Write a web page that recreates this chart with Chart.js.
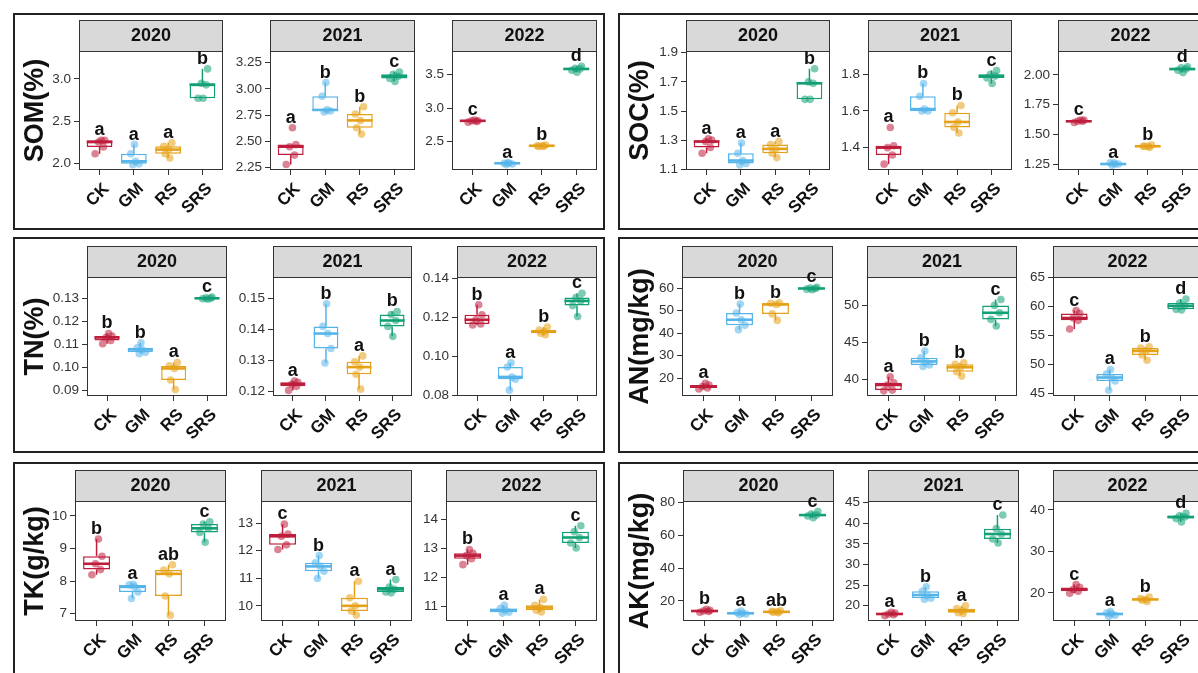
<!DOCTYPE html>
<html>
<head>
<meta charset="utf-8">
<script src="https://cdn.jsdelivr.net/npm/chart.js@4/dist/chart.umd.min.js"></script>
<style>
  html, body { margin: 0; padding: 0; background: #fff; }
  body { width: 1198px; height: 673px; overflow: hidden; position: relative; }
  .frame { position: absolute; border: 2px solid #222; box-sizing: border-box; }
  canvas { position: absolute; }
</style>
</head>
<body>
<script>
// treatments and years
const categories = ['CK', 'GM', 'RS', 'SRS'];
const years = ['2020', '2021', '2022'];
const colors = ['#BE1E3C', '#56B4E9', '#E5A118', '#13A077'];

// observations per treatment (CK, GM, RS, SRS), one block per year
const somValues = [
  [[2.11, 2.19, 2.25, 2.27, 2.27], [1.98, 1.99, 2.02, 2.11, 2.22], [2.06, 2.11, 2.16, 2.20, 2.24], [2.77, 2.77, 2.93, 2.95, 3.12]],
  [[2.28, 2.37, 2.45, 2.47, 2.63], [2.78, 2.79, 2.80, 2.93, 3.06], [2.57, 2.63, 2.70, 2.76, 2.83], [3.07, 3.10, 3.12, 3.14, 3.16]],
  [[2.79, 2.80, 2.81, 2.81, 2.82], [2.16, 2.17, 2.18, 2.18, 2.19], [2.43, 2.43, 2.44, 2.44, 2.45], [3.53, 3.56, 3.58, 3.59, 3.62]]
];
const socValues = [
  [[1.21, 1.25, 1.29, 1.30, 1.31], [1.13, 1.14, 1.16, 1.21, 1.28], [1.18, 1.21, 1.24, 1.27, 1.29], [1.58, 1.58, 1.69, 1.70, 1.79]],
  [[1.31, 1.36, 1.40, 1.41, 1.51], [1.60, 1.60, 1.61, 1.68, 1.75], [1.48, 1.51, 1.54, 1.59, 1.63], [1.75, 1.78, 1.79, 1.80, 1.82]],
  [[1.60, 1.61, 1.61, 1.62, 1.62], [1.24, 1.25, 1.25, 1.26, 1.26], [1.39, 1.40, 1.40, 1.40, 1.41], [2.02, 2.04, 2.05, 2.06, 2.07]]
];
const tnValues = [
  [[0.1103, 0.1117, 0.1130, 0.1136, 0.1147], [0.1060, 0.1066, 0.1078, 0.1085, 0.1107], [0.0905, 0.0946, 0.0996, 0.1007, 0.1022], [0.1295, 0.1297, 0.1299, 0.1301, 0.1304]],
  [[0.1203, 0.1216, 0.1223, 0.1229, 0.1233], [0.1291, 0.1338, 0.1386, 0.1409, 0.1482], [0.1207, 0.1255, 0.1278, 0.1295, 0.1314], [0.1377, 0.1409, 0.1428, 0.1447, 0.1457]],
  [[0.1160, 0.1165, 0.1187, 0.1213, 0.1264], [0.0825, 0.0881, 0.0893, 0.0944, 0.0966], [0.1110, 0.1118, 0.1126, 0.1134, 0.1150], [0.1204, 0.1260, 0.1284, 0.1301, 0.1323]]
];
const anValues = [
  [[15.2, 15.7, 16.3, 17.0, 17.8], [41.6, 43.5, 46.0, 49.0, 53.0], [45.7, 48.6, 52.8, 53.3, 53.5], [59.3, 59.6, 59.9, 60.1, 60.4]],
  [[38.4, 38.5, 39.2, 39.5, 40.3], [41.7, 41.9, 42.4, 42.9, 43.8], [40.4, 41.0, 41.6, 42.0, 42.2], [47.2, 48.1, 49.0, 50.0, 50.8]],
  [[56.1, 57.6, 58.0, 58.8, 59.3], [45.5, 47.1, 47.7, 48.3, 49.1], [50.7, 51.6, 52.3, 52.8, 53.0], [59.4, 59.5, 60.1, 60.6, 61.3]]
];
const tkValues = [
  [[8.19, 8.35, 8.53, 8.76, 9.29], [7.46, 7.66, 7.82, 7.88, 7.90], [6.95, 7.54, 8.22, 8.34, 8.50], [9.19, 9.49, 9.62, 9.75, 9.82]],
  [[12.04, 12.21, 12.52, 12.60, 12.96], [10.99, 11.25, 11.43, 11.56, 11.82], [9.67, 9.81, 10.00, 10.29, 10.89], [10.47, 10.50, 10.60, 10.68, 10.95]],
  [[12.44, 12.64, 12.75, 12.83, 12.96], [10.78, 10.81, 10.88, 10.94, 11.05], [10.82, 10.88, 10.97, 11.05, 11.25], [13.01, 13.18, 13.37, 13.57, 13.77]]
];
const akValues = [
  [[13.0, 13.5, 13.8, 14.2, 14.8], [11.6, 12.0, 12.4, 12.9, 13.8], [12.8, 13.1, 13.3, 13.6, 14.0], [70.8, 71.8, 72.4, 73.0, 74.5]],
  [[17.6, 17.8, 18.0, 18.2, 18.4], [21.6, 21.8, 22.6, 23.5, 24.6], [18.1, 18.3, 18.8, 19.3, 20.0], [35.2, 36.2, 37.4, 38.7, 42.0]],
  [[19.9, 20.4, 20.8, 21.3, 22.0], [14.3, 14.6, 14.9, 15.1, 15.5], [17.9, 18.2, 18.4, 18.6, 19.0], [37.1, 37.9, 38.3, 38.6, 39.2]]
];

// significance letters
const somLetters = [['a', 'a', 'a', 'b'], ['a', 'b', 'b', 'c'], ['c', 'a', 'b', 'd']];
const socLetters = [['a', 'a', 'a', 'b'], ['a', 'b', 'b', 'c'], ['c', 'a', 'b', 'd']];
const tnLetters = [['b', 'b', 'a', 'c'], ['a', 'b', 'a', 'b'], ['b', 'a', 'b', 'c']];
const anLetters = [['a', 'b', 'b', 'c'], ['a', 'b', 'b', 'c'], ['c', 'a', 'b', 'd']];
const tkLetters = [['b', 'a', 'ab', 'c'], ['c', 'b', 'a', 'a'], ['b', 'a', 'a', 'c']];
const akLetters = [['b', 'a', 'ab', 'c'], ['a', 'b', 'a', 'c'], ['c', 'a', 'b', 'd']];

// y tick labels
const somTicks = [['2.0', '2.5', '3.0'], ['2.25', '2.50', '2.75', '3.00', '3.25'], ['2.5', '3.0', '3.5']];
const socTicks = [['1.1', '1.3', '1.5', '1.7', '1.9'], ['1.4', '1.6', '1.8'], ['1.25', '1.50', '1.75', '2.00']];
const tnTicks = [['0.09', '0.10', '0.11', '0.12', '0.13'], ['0.12', '0.13', '0.14', '0.15'], ['0.08', '0.10', '0.12', '0.14']];
const anTicks = [['20', '30', '40', '50', '60'], ['40', '45', '50'], ['45', '50', '55', '60', '65']];
const tkTicks = [['7', '8', '9', '10'], ['10', '11', '12', '13'], ['11', '12', '13', '14']];
const akTicks = [['20', '40', '60', '80'], ['20', '25', '30', '35', '40', '45'], ['20', '30', '40']];

// y axis limits
const somRange = [[1.917, 3.333], [2.228, 3.361], [2.08, 3.846]];
const socRange = [[1.095, 1.912], [1.278, 1.927], [1.2, 2.202]];
const tnRange = [[0.0877, 0.1391], [0.1185, 0.1568], [0.0795, 0.1407]];
const anRange = [[12.1, 65.0], [37.7, 53.86], [44.5, 65.1]];
const tkRange = [[6.77, 10.46], [9.45, 13.8], [10.51, 14.62]];
const akRange = [[7.7, 81], [16.3, 45.4], [13.2, 42.15]];

const FONT = '"Liberation Sans", Arial, Helvetica, sans-serif';
const STRIP = 31;
const XAXIS_H = 52;
const jitter = [-0.13, 0.11, -0.03, 0.15, 0.05, -0.09, 0.02];

// layout of the six panels
const rowStrip = [20, 246, 470];
const rowBottom = [170, 396, 621];
const rowFrame = [[13, 230], [237, 453], [462, 700]];
const colFrame = [[13, 605], [618, 1230]];

const panels = [
  { title: 'SOM(%)', row: 0, col: 0, x: [[79, 223], [270, 415], [452, 597]], values: somValues, letters: somLetters, ticks: somTicks, range: somRange },
  { title: 'SOC(%)', row: 0, col: 1, x: [[686, 830], [868, 1012], [1058, 1203]], values: socValues, letters: socLetters, ticks: socTicks, range: socRange },
  { title: 'TN(%)', row: 1, col: 0, x: [[87, 227], [273, 412], [457, 597]], values: tnValues, letters: tnLetters, ticks: tnTicks, range: tnRange },
  { title: 'AN(mg/kg)', row: 1, col: 1, x: [[682, 833], [867, 1017], [1053, 1202]], values: anValues, letters: anLetters, ticks: anTicks, range: anRange },
  { title: 'TK(g/kg)', row: 2, col: 0, x: [[75, 226], [261, 412], [446, 597]], values: tkValues, letters: tkLetters, ticks: tkTicks, range: tkRange },
  { title: 'AK(mg/kg)', row: 2, col: 1, x: [[683, 834], [868, 1019], [1053, 1202]], values: akValues, letters: akLetters, ticks: akTicks, range: akRange }
];

function quantile(sorted, p) {
  const h = (sorted.length - 1) * p;
  const lo = Math.floor(h);
  const hi = Math.min(lo + 1, sorted.length - 1);
  return sorted[lo] + (h - lo) * (sorted[hi] - sorted[lo]);
}

// box statistics the way geom_boxplot does them (1.5 IQR whiskers)
function boxStats(vals) {
  const s = vals.slice().sort((a, b) => a - b);
  const q1 = quantile(s, 0.25), med = quantile(s, 0.5), q3 = quantile(s, 0.75);
  const iqr = q3 - q1;
  const inside = s.filter(v => v >= q1 - 1.5 * iqr && v <= q3 + 1.5 * iqr);
  return { q1, med, q3, lo: inside[0], hi: inside[inside.length - 1], max: s[s.length - 1] };
}

function hexAlpha(hex, a) {
  const n = parseInt(hex.slice(1), 16);
  return `rgba(${n >> 16}, ${(n >> 8) & 255}, ${n & 255}, ${a})`;
}

const boxExtras = {
  id: 'boxExtras',
  beforeDraw(chart, args, opts) {
    const { ctx, chartArea: a } = chart;
    ctx.save();
    ctx.fillStyle = '#d9d9d9';
    ctx.fillRect(a.left, a.top - STRIP, a.right - a.left, STRIP);
    ctx.strokeStyle = '#333';
    ctx.lineWidth = 1;
    ctx.strokeRect(a.left + 0.5, a.top - STRIP + 0.5, a.right - a.left - 1, STRIP);
    ctx.fillStyle = '#111';
    ctx.font = 'bold 18px ' + FONT;
    ctx.textAlign = 'center';
    ctx.textBaseline = 'middle';
    ctx.fillText(opts.year, (a.left + a.right) / 2, a.top - STRIP / 2 + 1);
    ctx.restore();
  },
  afterDatasetDraw(chart, args, opts) {
    if (args.meta.type !== 'bar') return;
    const { ctx } = chart;
    const y = chart.scales.y;
    ctx.save();
    args.meta.data.forEach((bar, i) => {
      const st = opts.stats[i];
      const half = bar.width / 2;
      ctx.strokeStyle = colors[i];
      ctx.lineWidth = 1.5;
      ctx.beginPath();
      ctx.moveTo(bar.x, y.getPixelForValue(st.q3));
      ctx.lineTo(bar.x, y.getPixelForValue(st.hi));
      ctx.moveTo(bar.x, y.getPixelForValue(st.q1));
      ctx.lineTo(bar.x, y.getPixelForValue(st.lo));
      ctx.stroke();
      ctx.lineWidth = 2.6;
      ctx.beginPath();
      const ym = y.getPixelForValue(st.med);
      ctx.moveTo(bar.x - half, ym);
      ctx.lineTo(bar.x + half, ym);
      ctx.stroke();
    });
    ctx.restore();
  },
  afterDraw(chart, args, opts) {
    const { ctx, chartArea: a } = chart;
    const x = chart.scales.x, y = chart.scales.y;
    ctx.save();
    ctx.strokeStyle = '#333';
    ctx.lineWidth = 1;
    ctx.strokeRect(a.left + 0.5, a.top + 0.5, a.right - a.left - 1, a.bottom - a.top - 1);
    ctx.fillStyle = '#111';
    ctx.font = 'bold 18px ' + FONT;
    ctx.textAlign = 'center';
    ctx.textBaseline = 'alphabetic';
    opts.letters.forEach((t, i) => {
      ctx.fillText(t, x.getPixelForValue(i), y.getPixelForValue(opts.stats[i].max) - 5);
    });
    ctx.restore();
  }
};

// outer frames
colFrame.forEach(cf => {
  rowFrame.forEach(rf => {
    const d = document.createElement('div');
    d.className = 'frame';
    d.style.left = cf[0] + 'px';
    d.style.top = rf[0] + 'px';
    d.style.width = (cf[1] - cf[0]) + 'px';
    d.style.height = (rf[1] - rf[0]) + 'px';
    document.body.appendChild(d);
  });
});

function makeSubplot(p, k) {
  const [pl, pr] = p.x[k];
  const top = rowStrip[p.row];
  const plotH = rowBottom[p.row] - (top + STRIP);
  const yw = k === 0 ? pl - (colFrame[p.col][0] + 6) : 48;
  const canvas = document.createElement('canvas');
  canvas.width = yw + (pr - pl) + 10;
  canvas.height = STRIP + plotH + XAXIS_H;
  canvas.style.left = (pl - yw) + 'px';
  canvas.style.top = top + 'px';
  document.body.appendChild(canvas);

  const groups = p.values[k];
  const stats = groups.map(boxStats);
  const tickLabels = p.ticks[k];
  const points = [];
  const pointColors = [];
  groups.forEach((vals, i) => {
    vals.forEach((v, j) => {
      points.push({ x: i + jitter[(j + i * 2) % jitter.length], y: v });
      pointColors.push(hexAlpha(colors[i], 0.55));
    });
  });

  new Chart(canvas, {
    type: 'bar',
    data: {
      datasets: [
        {
          type: 'scatter',
          data: points,
          pointRadius: 3.8,
          pointBorderWidth: 0,
          pointBackgroundColor: pointColors,
          order: 0
        },
        {
          type: 'bar',
          data: stats.map((s, i) => ({ x: i, y: [s.q1, s.q3] })),
          backgroundColor: '#fff',
          borderColor: colors,
          borderWidth: 1.5,
          borderSkipped: false,
          barPercentage: 0.75,
          categoryPercentage: 1,
          order: 1
        }
      ]
    },
    options: {
      responsive: false,
      animation: false,
      devicePixelRatio: 1,
      layout: { padding: { top: STRIP, right: 10, left: 0, bottom: 0 }, autoPadding: false },
      plugins: {
        legend: { display: false },
        tooltip: { enabled: false },
        boxExtras: { year: years[k], stats: stats, letters: p.letters[k] }
      },
      scales: {
        x: {
          type: 'linear',
          min: -0.6,
          max: 3.6,
          offset: false,
          afterBuildTicks: s => { s.ticks = categories.map((c, i) => ({ value: i })); },
          afterFit: s => { s.height = XAXIS_H; },
          grid: { display: true, offset: false, drawOnChartArea: false, drawTicks: true, tickLength: 5, color: '#333', lineWidth: 1 },
          border: { display: false },
          ticks: {
            autoSkip: false, minRotation: 45, maxRotation: 45, padding: 4, labelOffset: 7,
            color: '#111', font: { family: FONT, size: 17, weight: 'bold' },
            callback: v => categories[v]
          }
        },
        y: {
          min: p.range[k][0],
          max: p.range[k][1],
          beginAtZero: false,
          afterBuildTicks: s => { s.ticks = tickLabels.map(t => ({ value: parseFloat(t) })); },
          afterFit: s => { s.width = yw; },
          grid: { display: true, drawOnChartArea: false, drawTicks: true, tickLength: 5, color: '#333', lineWidth: 1 },
          border: { display: false },
          ticks: {
            padding: 3, color: '#333', font: { family: FONT, size: 13.5 },
            callback: (v, i) => tickLabels[i]
          },
          title: {
            display: k === 0,
            text: p.title,
            color: '#111',
            padding: 0,
            font: { family: FONT, size: 27, weight: 'bold' }
          }
        }
      }
    },
    plugins: [boxExtras]
  });
}

panels.forEach(p => years.forEach((yr, k) => makeSubplot(p, k)));
</script>
</body>
</html>
